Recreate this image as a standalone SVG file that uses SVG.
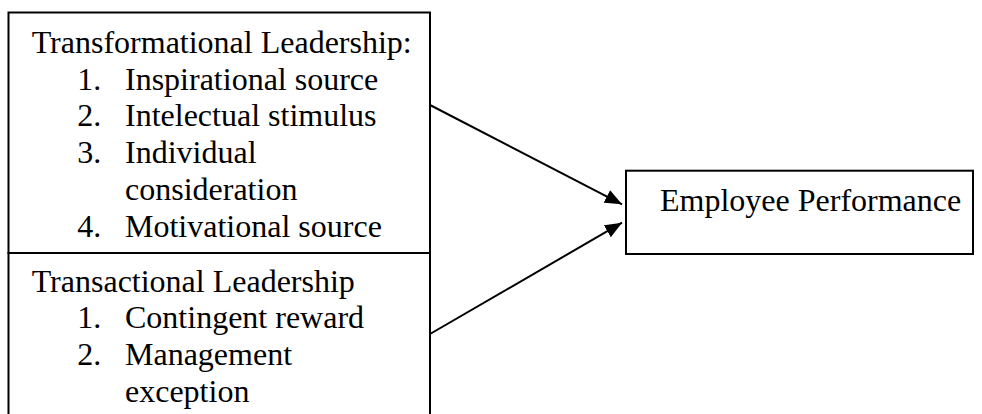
<svg xmlns="http://www.w3.org/2000/svg" width="982" height="414" viewBox="0 0 982 414">
  <style>
    .box { fill: #fff; stroke: #000; stroke-width: 2; }
    .t { font-family: "Liberation Serif", "Times New Roman", serif; font-size: 32px; fill: #000; }
    .edge { stroke: #000; stroke-width: 2; fill: none; marker-end: url(#arrow); }
  </style>
  <defs>
    <marker id="arrow" markerUnits="userSpaceOnUse" markerWidth="18" markerHeight="14" refX="17" refY="7" orient="auto">
      <path d="M0,0 L17,7 L0,14 z" fill="#000"/>
    </marker>
  </defs>
  <rect width="982" height="414" fill="#fff"/>
  <g id="transformational">
    <rect class="box" x="8.5" y="12.5" width="421.5" height="240.5"/>
    <text class="t" x="31.7" y="53">Transformational Leadership:</text>
    <text class="t" x="77.3" y="89.7">1.</text>
    <text class="t" x="125" y="89.7">Inspirational source</text>
    <text class="t" x="77.3" y="126.4">2.</text>
    <text class="t" x="125" y="126.4">Intelectual stimulus</text>
    <text class="t" x="77.3" y="163.1">3.</text>
    <text class="t" x="125" y="163.1">Individual</text>
    <text class="t" x="125" y="199.8">consideration</text>
    <text class="t" x="77.3" y="236.5">4.</text>
    <text class="t" x="125" y="236.5">Motivational source</text>
  </g>
  <g id="transactional">
    <rect class="box" x="8.5" y="253" width="421.5" height="180"/>
    <text class="t" x="31.7" y="291.7">Transactional Leadership</text>
    <text class="t" x="77.3" y="328.4">1.</text>
    <text class="t" x="125" y="328.4">Contingent reward</text>
    <text class="t" x="77.3" y="365.1">2.</text>
    <text class="t" x="125" y="365.1">Management</text>
    <text class="t" x="125" y="401.8">exception</text>
  </g>
  <g id="performance">
    <rect class="box" x="626" y="170.7" width="347" height="83.3"/>
    <text class="t" x="660" y="211">Employee Performance</text>
  </g>
  <g id="connectors">
    <line class="edge" x1="430" y1="105" x2="622" y2="204.3"/>
    <line class="edge" x1="430" y1="334" x2="622" y2="222.7"/>
  </g>
</svg>
